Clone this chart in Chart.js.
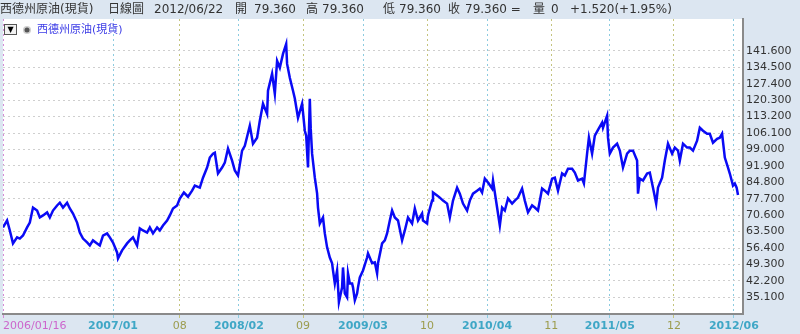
<!DOCTYPE html>
<html>
<head>
<meta charset="utf-8">
<script src="https://cdn.jsdelivr.net/npm/chart.js@4.4.1/dist/chart.umd.min.js"></script>
<style>
  html, body { margin: 0; padding: 0; background: #dce6f1; }
  canvas { display: block; }
</style>
</head>
<body>
<canvas id="oilChart" width="800" height="334"></canvas>
<script>
// trading day index since 2006/01/16, and WTI spot close
const tradeDay = [
  0, 9, 15, 22, 31, 37, 44, 53, 59, 66,
  75, 81, 88, 97, 103, 110, 119, 125, 132, 141,
  147, 154, 163, 169, 176, 185, 191, 198, 207, 213,
  220, 229, 235, 242, 251, 253, 262, 273, 279, 286,
  295, 301, 308, 317, 323, 330, 339, 345, 352, 361,
  367, 374, 383, 389, 398, 407, 416, 422, 433, 440,
  449, 455, 462, 466, 473, 482, 488, 495, 504, 510,
  517, 526, 532, 543, 550, 559, 565, 572, 581, 583,
  592, 598, 603, 609, 616, 623, 625, 631, 638, 642,
  649, 658, 660, 664, 667, 671, 675, 677, 680, 686,
  691, 693, 697, 704, 708, 713, 719, 724, 726, 730,
  735, 739, 746, 748, 752, 757, 759, 763, 768, 770,
  774, 779, 781, 785, 792, 801, 803, 812, 818, 823,
  825, 834, 840, 845, 851, 856, 862, 869, 878, 884,
  891, 900, 906, 913, 922, 924, 933, 935, 944, 946,
  955, 961, 968, 977, 983, 990, 999, 1005, 1012, 1021,
  1027, 1034, 1043, 1049, 1054, 1060, 1067, 1076, 1078, 1087,
  1093, 1098, 1104, 1111, 1120, 1126, 1133, 1142, 1148, 1155,
  1164, 1170, 1177, 1186, 1192, 1199, 1208, 1214, 1221, 1230,
  1236, 1243, 1252, 1258, 1265, 1274, 1278, 1285, 1289, 1296,
  1302, 1309, 1318, 1320, 1329, 1331, 1335, 1342, 1351, 1357,
  1364, 1373, 1379, 1386, 1395, 1397, 1401, 1408, 1417, 1423,
  1430, 1437, 1441, 1450, 1456, 1463, 1472, 1478, 1485, 1489,
  1496, 1505, 1511, 1518, 1527, 1533, 1540, 1549, 1555, 1562,
  1571, 1577, 1582, 1588, 1595, 1599, 1606, 1610, 1614, 1617
];
const closePrice = [
  65.3, 68.3, 64.0, 58.4, 61.0, 60.5, 61.8, 65.3, 67.4, 73.9,
  72.6, 69.6, 70.5, 71.8, 69.6, 72.6, 74.8, 76.0, 73.9, 76.0,
  73.5, 71.3, 67.4, 63.1, 60.5, 58.8, 57.5, 59.7, 58.4, 57.5,
  61.8, 62.7, 61.0, 58.8, 54.5, 51.9, 55.4, 58.4, 59.7, 61.0,
  57.5, 64.9, 64.0, 63.1, 65.3, 62.7, 65.3, 64.0, 66.1, 68.3,
  70.5, 73.5, 74.8, 77.8, 80.4, 78.6, 81.2, 83.4, 82.5, 86.8,
  91.2, 95.5, 97.2, 97.6, 88.6, 91.2, 93.3, 99.4, 94.2, 89.9,
  87.7, 98.5, 100.6, 109.3, 101.5, 104.1, 111.4, 118.8, 114.4, 124.4,
  131.7, 123.1, 137.3, 134.3, 140.3, 144.6, 136.0, 130.0, 124.4, 121.0,
  112.7, 118.8, 115.0, 107.1, 105.0, 91.2, 120.9, 108.0, 97.2, 86.8,
  80.0, 73.9, 67.0, 69.6, 62.7, 56.7, 52.3, 49.8, 46.7, 41.1,
  46.7, 33.0, 39.4, 48.0, 36.8, 35.1, 45.4, 41.1, 41.1, 39.4,
  33.8, 36.8, 39.4, 43.7, 46.7, 52.3, 54.1, 49.8, 50.2, 45.4,
  49.8, 58.4, 59.7, 62.7, 68.3, 72.6, 69.6, 68.3, 59.7, 64.0,
  69.6, 67.0, 73.5, 68.3, 71.3, 68.3, 67.0, 70.5, 76.9, 80.4,
  79.1, 78.2, 76.9, 75.6, 69.6, 76.9, 82.5, 79.9, 75.6, 72.6,
  76.9, 79.9, 81.2, 82.1, 80.4, 86.4, 84.7, 82.1, 85.6, 73.9,
  66.1, 73.9, 72.6, 77.8, 75.6, 76.9, 78.2, 82.1, 76.9, 71.8,
  74.8, 73.9, 72.6, 82.1, 81.2, 79.9, 86.4, 86.8, 81.2, 88.6,
  87.7, 90.7, 90.7, 89.0, 85.6, 86.4, 84.3, 97.2, 104.1, 97.2,
  105.0, 107.5, 110.6, 108.4, 113.6, 104.1, 97.2, 99.8, 101.5, 98.5,
  91.2, 97.2, 98.5, 98.5, 94.2, 79.9, 86.4, 85.6, 88.6, 89.0,
  82.5, 75.6, 82.5, 86.8, 94.2, 101.5, 97.2, 99.8, 98.5, 94.2,
  101.5, 99.8, 99.8, 98.5, 102.8, 108.4, 107.1, 105.8, 105.8, 101.9,
  103.6, 104.1, 105.8, 95.5, 91.2, 88.6, 83.4, 84.3, 82.5, 79.36
];

// x axis ticks (trading day index) and their labels
const xTickDays = [0, 242, 389, 519, 660, 792, 933, 1065, 1206, 1335, 1476, 1608];
const xTickLabels = ['2006/01/16', '2007/01', '08', '2008/02', '09', '2009/03', '10', '2010/04', '11', '2011/05', '12', '2012/06'];
const xTickKinds = ['start', 'year', 'month', 'year', 'month', 'year', 'month', 'year', 'month', 'year', 'month', 'year'];

// y axis ticks
const yTicks = [35.1, 42.2, 49.3, 56.4, 63.5, 70.6, 77.7, 84.8, 91.9, 99.0, 106.1, 113.2, 120.3, 127.4, 134.5, 141.6];

const headerParts = [
  ['西德州原油(現貨)', 0], ['日線圖', 108], ['2012/06/22', 154],
  ['開', 235], ['79.360', 254], ['高', 306], ['79.360', 322],
  ['低', 383], ['79.360', 399], ['收', 448], ['79.360 =', 465],
  ['量', 533], ['0', 551], ['+1.520(+1.95%)', 570]
];
const seriesName = '西德州原油(現貨)';

const FONT = '"DejaVu Sans", "Noto Sans CJK TC", sans-serif';
const gridColors = { start: '#d58ad5', year: '#8ccbe0', month: '#c4c47e' };
const labelColors = { start: '#cc66cc', year: '#3fa7c6', month: '#9c9c4e' };

const decorations = {
  id: 'decorations',
  beforeDraw(chart) {
    const { ctx, chartArea: a } = chart;
    ctx.save();
    ctx.fillStyle = '#ffffff';
    ctx.fillRect(a.left, a.top, a.right - a.left, a.bottom - a.top);
    ctx.restore();
  },
  afterDraw(chart) {
    const { ctx, chartArea: a } = chart;
    const xs = chart.scales.x;
    ctx.save();
    // header line
    ctx.fillStyle = '#333333';
    ctx.font = '12px ' + FONT;
    ctx.textBaseline = 'middle';
    headerParts.forEach(([t, x]) => ctx.fillText(t, x, 10));

    // legend box
    ctx.fillStyle = '#f2f2f2';
    ctx.fillRect(4, 24, 12, 10);
    ctx.strokeStyle = '#555';
    ctx.lineWidth = 1;
    ctx.strokeRect(4.5, 24.5, 12, 10);
    ctx.fillStyle = '#000';
    ctx.font = '8px ' + FONT;
    ctx.textAlign = 'center';
    ctx.fillText('▼', 10.5, 30);
    ctx.beginPath();
    ctx.arc(27, 30, 4, 0, Math.PI * 2);
    ctx.fillStyle = '#cfcfcf';
    ctx.fill();
    ctx.beginPath();
    ctx.arc(27, 30, 2.5, 0, Math.PI * 2);
    ctx.fillStyle = '#555';
    ctx.fill();
    ctx.textAlign = 'left';
    ctx.fillStyle = '#3b3be6';
    ctx.font = '11px ' + FONT;
    ctx.fillText(seriesName, 37, 30);

    // x labels
    xTickDays.forEach((d, i) => {
      const kind = xTickKinds[i];
      const px = xs.getPixelForValue(d);
      ctx.fillStyle = labelColors[kind];
      ctx.font = (kind === 'year' ? 'bold ' : '') + '11px ' + FONT;
      ctx.textAlign = kind === 'start' ? 'left' : 'center';
      ctx.fillText(xTickLabels[i], kind === 'start' ? a.left : px, 326);
    });
    ctx.restore();
  }
};

const ctx = document.getElementById('oilChart').getContext('2d');
const oilChart = new Chart(ctx, {
  type: 'line',
  data: {
    datasets: [{
      label: seriesName,
      data: tradeDay.map((d, i) => ({ x: d, y: closePrice[i] })),
      borderColor: '#0a0af5',
      borderWidth: 2.5,
      pointRadius: 0,
      tension: 0,
      fill: false
    }]
  },
  options: {
    responsive: false,
    animation: false,
    layout: { padding: { top: 19, left: 3, right: 0, bottom: 0 } },
    plugins: { legend: { display: false }, tooltip: { enabled: false } },
    scales: {
      x: {
        type: 'linear',
        min: 0,
        max: 1628,
        afterBuildTicks: s => { s.ticks = xTickDays.map(v => ({ value: v })); },
        afterFit: s => { s.height = 20; },
        ticks: { display: false },
        grid: {
          color: c => gridColors[xTickKinds[c.index]] || '#ccc',
          tickColor: c => gridColors[xTickKinds[c.index]] || '#ccc',
          tickLength: 4,
          lineWidth: 1
        },
        border: { display: true, color: '#8a8a8a', width: 2, dash: [2, 3] }
      },
      y: {
        position: 'right',
        min: 27.88,
        max: 155.4,
        afterBuildTicks: s => { s.ticks = yTicks.map(v => ({ value: v })); },
        afterFit: s => { s.width = 57; },
        ticks: {
          color: '#333333',
          font: { family: FONT, size: 11 },
          padding: 3,
          callback: v => v.toFixed(3)
        },
        grid: { color: '#cfcfcf', drawTicks: false, lineWidth: 1 },
        border: { display: true, color: '#8a8a8a', width: 2, dash: [2, 3] }
      }
    }
  },
  plugins: [decorations]
});
</script>
</body>
</html>
